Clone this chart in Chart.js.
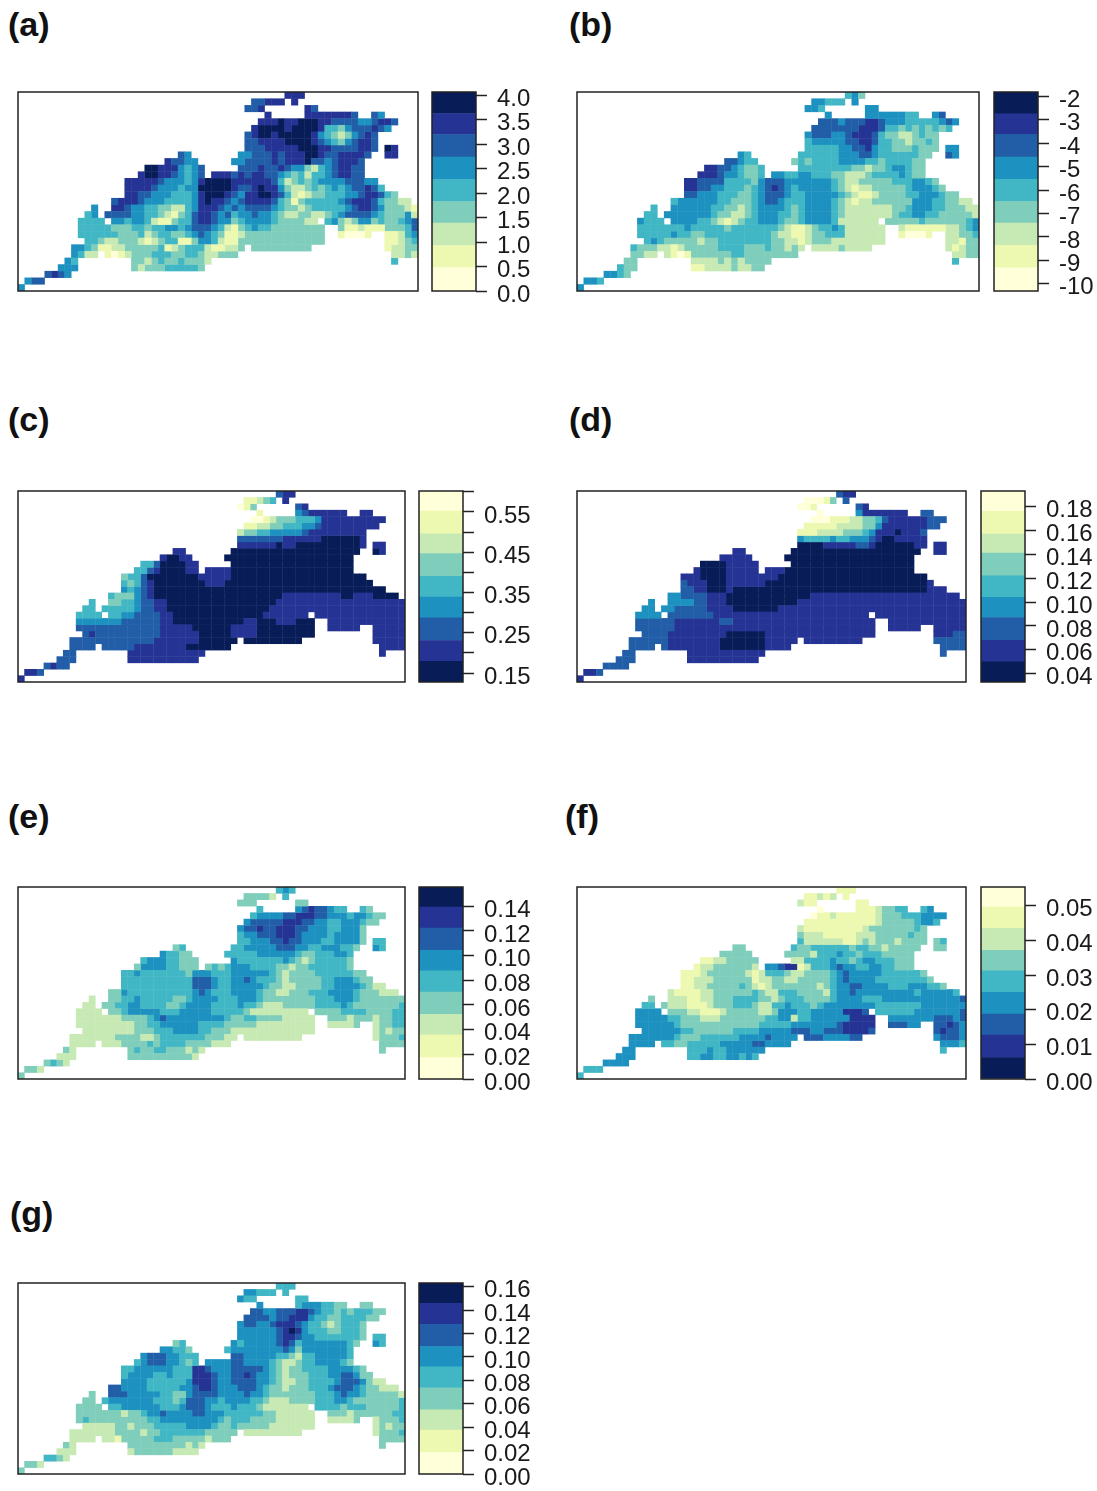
<!DOCTYPE html>
<html lang="en">
<head>
<meta charset="UTF-8">
<title>Maps (a) - (g)</title>
<style>
    body { margin: 0; background: #fff; }
    canvas { position: absolute; }
    canvas.map { filter: blur(0.6px); }
    .tag { position: absolute; font: bold 34px "Liberation Sans", Arial, sans-serif; color: #111; line-height: 36px; }
</style>
</head>
<body>
<script src="https://cdn.jsdelivr.net/npm/chart.js"></script>
<script>
// YlGnBu bands, lightest to darkest
const palette = ['#ffffd9', '#edf8b1', '#c7e9b4', '#7fcdbb', '#41b6c4', '#1d91c0', '#225ea8', '#253494', '#081d58'];

// land cells in each row of the 60 x 30 grid, as [first column, last column]
const landRuns = [
    [[40,42]], [[35,39],[41,41]], [[34,36],[43,44]], [[37,37],[43,50],[53,54]], [[36,56]],
    [[35,55]], [[34,53]], [[34,53]], [[34,53],[55,56]], [[24,25],[33,52],[55,56]],
    [[22,26],[32,51]], [[19,27],[33,51]], [[18,27],[29,51]], [[16,53]], [[16,54]],
    [[16,56]], [[14,58]], [[11,11],[14,59]], [[10,11],[13,59]], [[9,12],[14,44],[46,59]],
    [[9,45],[48,59]], [[9,45],[48,52],[55,59]], [[10,45],[55,59]], [[8,33],[35,43],[55,59]], [[8,11],[13,32],[56,59]],
    [[7,8],[17,28],[56,56]], [[6,8],[17,27]], [[4,7]], [[1,3]], [[0,0]]
];

// colour band of each land cell (one string per run)
const levelsA = ['777','66777 7','667 76','7 77777776 65','777877888776666556776',
    '788887888874435666765','67887888887543235676','66777788887654356776','66677777888776666776 87','65 55666767778876677776 77',
    '76655 55666676777866567776','887775456 6667667655324567766','7887765456 77767677665434244567766','77777655545788887777776423434555566655','777765554558888876678775322343454566764',
    '77665554445788876577887642123344455677643','677765554444578776567777643134444456777643322','5 7765544332245777656566665433234444456776533321','45 66665544321346776564556554322332234566665433352','4444 5545542113446776553455554333322 45323553433456',
    '4444433344344554566654213454433333333 311211133346','4444443334234433456543112333333333333 10001 11245','443223332123441135542113333333333333 11234','55431122333334123444211223 333333333 12233','5422 10123334443344322333 2232',
    '54 332343343332 4','555 32333444443','6765','566','5'];
const levelsB = ['453','55444 5','554 55','5 55555544 56','666566677655544444565',
    '666666677764434343434','56665567776433223433','45555566776443323343','44444556675443334333 55','54 44444455566544444433 65',
    '66544 34344445555443444433','776654334 4444444433233455433','7776554334 55445544433222344445433','77666644443566655555554322333334445543','776655444345676545555543212233333455543',
    '66555444334566654455555432112333344555433','455555544333456654445555432122333333555443322','4 5555554433234555543455554322222223345554433322','44 55555554332234555443455554322222223445544333332','5444 5555443212344555433455554222222 33333433333345',
    '4444444544444344444443211234454222222 211111122345','4444454433444444444432211233444222222 10001 22334','454333332334444444433221233322222222 22133','43332212333334444333433232 222232222 21233','3322 21013333334433333333 2233',
    '33 222232323333 4','433 11222232233','5543','554','5'];
const levelsC = ['677','11234 7','013 67','1 56777777 77','001233344457777777777',
    '112233444556777777777','23344555556777777777','66666667777778888887','77777787788888888887 77','77 88888888888888888888 87',
    '78877 88888888888888888888','446888877 8888888888888888888','4467888877 77778888888888888888888','34468888888877777888888888888888888888','434678888888877788888888888888888888888',
    '54567888888888888888888888888888888888888','433356788888888888888888888777777777887778888','4 3344566778888888888888888877777777777777777777','44 44444566778888888888888888777777777777777777777','4444 4455666677888888888888887777 77777777777777',
    '5555555666666778888888888877888777888 777777777777','6666666666666777778888887777888888888 77777 77777','676666666666777777888887777888888888 77777','66666666666667777777888888 888888888 77777','6666 66666777777778888888877 7777',
    '66 777777777777 7','666 77777777777','6766','776','7'];
const levelsD = ['677','00013 6','001 67','0 57777777 66','000111223346777777666',
    '111112222335777777766','11122223334577787776','54444544555678877777','88887777766788888877 77','77 88888888888888888888 77',
    '77777 88888888888888888888','888877777 8888888888888888888','7888877777 77788888888888888888888','77788887777777788888888888888888888888','677788877777788888888888888888888888887',
    '66778887888888888888888888888888888888777','55666677788888888888887777777777777777777777777','5 5555667778888888888877777777777777777777777777','55 55666667777888888877777777777777777777777777777','5555 6666666777777777777777777777 77777777777777',
    '6666667777777667777777777777777777777 777777777777','6666667777777777777777777777777777777 77777 77777','666677777777788888877777777777777777 77766','66666677777777888888877777 777777777 66666','6666 67777777788888887777 6666',
    '66 777777777777 6','666 77777777777','6666','776','7'];
const levelsE = ['454','33332 4','333 33','4 56766544 43','455556677766555455433',
    '566666777665544555433','56676677766555445553','45566677765555455553','44555667665554455553 44','34 44555556665544555443 54',
    '54433 44444555555433444554','455544333 5444444454323444443','3555544333 34345554444332334444443','44544444443555444555555432333344444433','444444444446665445565444323333344555433',
    '44444444444666544555554332233334455554322','335444444444456544455554332233344455554333222','2 3344544444334555544455543333333344455543333333','22 33445544443345555444454432223333344445433333334','2222 3345555544455555444443222222 33334444333344',
    '2222222333345655555555543344333322222 333233323344','2222222223344555555444433333222222222 22223 23344','222222223334445555443332222222222222 23233','22222223333223444444433322 222222222 23334','2222 22233334344443333222 3333',
    '32 343344333232 3','222 33333333332','3432','332','3'];
const levelsF = ['111','11212 1','211 11','0 11123344 45','011211111123334445555',
    '111111111112333334554','21111111112333333343','32221111122233333433','42222221123233323333 34','33 43344444434433233333 33',
    '33333 33332444544344433333','112233333 2244445443455444333','1223333332 55677124445655445544333','11123333332124443223333456555554444443','112223333331223322333334565555444444443',
    '11223333343212333333323455665555444555443','211112233333343224443333245565555555554555554','3 2221122333444433234443333455554445555555555556','44 32221112333444322445444345555555544444445555555','5555 3332211123333322355544555557776 44444455555556',
    '5555544333222333333344552445555557777 555555566656','5555554333333333333444445555555677777 66655 66765','555555443333334444555556665566677776 67665','55555554333444444555565555 666555566 56665','5555 44334444455555665555 5554',
    '55 444544555555 4','555 44554455454','5555','444','4'];
const levelsG = ['444','55444 4','544 44','5 45554433 33','665566677654434344433',
    '666656677754433444433','56655677765443234443','55555567875444334443','55555567765544444443 44','34 54555556764555555543 54',
    '55443 45555555565355555554','566655444 6655555443244555554','4566655434 55556655554322344555543','44555555444776555666665432334444555543','455554454447776556676554323334445566533',
    '55554444445777655666655432233444456665322','665555444445567765556665433233344456665433222','3 6665555544335666655556554333333344456554333332','33 45555555444346665545555443222333344455433333334','3333 4455555544456665444544432222222 44443444333334',
    '3333333233455655556655544444433222222 333233333344','3433333333344555555555434443333222222 22223 23334','222223323334444455554334333332222222 23233','22222223333233444444433333 222222222 23334','2222 22133333444333332333 3333',
    '32 333333333232 3','222 23333332222','4432','332','3'];

// colour bar band limits, bottom to top, and the numbered ticks
const breaksA = [0, 0.48, 0.93, 1.39, 1.83, 2.28, 2.74, 3.2, 3.63, 4.07];
const breaksB = [-10.31, -9.32, -8.36, -7.41, -6.48, -5.54, -4.59, -3.62, -2.74, -1.81];
const breaksC = [0.128, 0.179, 0.231, 0.287, 0.339, 0.39, 0.447, 0.496, 0.552, 0.602];
const breaksD = [0.033, 0.05, 0.068, 0.087, 0.104, 0.122, 0.141, 0.157, 0.176, 0.193];
const breaksE = [0, 0.0173, 0.0357, 0.0525, 0.0704, 0.0877, 0.1042, 0.1223, 0.1394, 0.1556];
const breaksF = [0, 0.0062, 0.0127, 0.0187, 0.025, 0.0312, 0.0371, 0.0435, 0.0496, 0.0554];
const breaksG = [0, 0.0182, 0.0374, 0.0547, 0.0735, 0.0916, 0.1089, 0.1279, 0.1458, 0.1631];

const ticksA = [0, 0.5, 1, 1.5, 2, 2.5, 3, 3.5, 4];
const ticksB = [-10, -9, -8, -7, -6, -5, -4, -3, -2];
const ticksC = [0.15, 0.2, 0.25, 0.3, 0.35, 0.4, 0.45, 0.5, 0.55, 0.6];
const ticksD = [0.04, 0.06, 0.08, 0.1, 0.12, 0.14, 0.16, 0.18];
const ticksE = [0, 0.02, 0.04, 0.06, 0.08, 0.1, 0.12, 0.14];
const ticksF = [0, 0.01, 0.02, 0.03, 0.04, 0.05];
const ticksG = [0, 0.02, 0.04, 0.06, 0.08, 0.1, 0.12, 0.14, 0.16];

const labelsC = ['0.15', '', '0.25', '', '0.35', '', '0.45', '', '0.55', ''];

// box round the plot area, the R look
const frame = {
    id: 'frame',
    afterDatasetsDraw(chart) {
        const a = chart.chartArea, c = chart.ctx;
        c.save();
        c.strokeStyle = '#222';
        c.lineWidth = 1.5;
        c.strokeRect(a.left, a.top, a.right - a.left, a.bottom - a.top);
        c.restore();
    }
};

function addCanvas(x, y, w, h, cls) {
    const cv = document.createElement('canvas');
    cv.width = w;
    cv.height = h;
    cv.style.left = x + 'px';
    cv.style.top = y + 'px';
    if (cls) cv.className = cls;
    document.body.appendChild(cv);
    return cv.getContext('2d');
}

function drawMap(box, levels) {
    // one scatter dataset per colour band
    const cells = palette.map(() => []);
    landRuns.forEach((runs, row) => {
        const parts = levels[row].split(' ');
        runs.forEach((run, i) => {
            const part = parts[i];
            for (let col = run[0]; col <= run[1]; col++) {
                const digit = part[col - run[0]] || part[part.length - 1];
                cells[+digit].push({ x: col + 0.5, y: row + 0.5 });
            }
        });
    });
    const side = Math.max(box.w / 60, box.h / 30) + 0.4;
    new Chart(addCanvas(box.x - 1, box.y - 1, box.w + 2, box.h + 2, 'map'), {
        type: 'scatter',
        data: {
            datasets: cells.map((pts, i) => ({
                data: pts,
                backgroundColor: palette[i],
                pointStyle: 'rect',
                pointRadius: side / Math.SQRT2,
                borderWidth: 0
            }))
        },
        options: {
            responsive: false,
            animation: false,
            layout: { autoPadding: false, padding: 1 },
            plugins: { legend: { display: false }, tooltip: { enabled: false } },
            scales: {
                x: { type: 'linear', display: false, min: 0, max: 60 },
                y: { type: 'linear', display: false, min: 0, max: 30, reverse: true }
            }
        },
        plugins: [frame]
    });
}

function drawBar(box, breaks, ticks, reversed, labels, decimals) {
    const pad = 26; // tick labels need about this much past the bar ends
    const bands = breaks.slice(1).map((hi, i) => ({
        data: [[breaks[i], hi]],
        backgroundColor: palette[reversed ? 8 - i : i],
        borderWidth: 0,
        barPercentage: 1,
        categoryPercentage: 1,
        grouped: false
    }));
    new Chart(addCanvas(box.x - 1, box.y - pad, box.w + 91, box.h + pad * 2), {
        type: 'bar',
        data: { labels: [''], datasets: bands },
        options: {
            responsive: false,
            animation: false,
            layout: { autoPadding: false, padding: { left: 1, top: pad, bottom: pad } },
            plugins: { legend: { display: false }, tooltip: { enabled: false } },
            scales: {
                x: { display: false },
                y: {
                    position: 'right',
                    min: breaks[0],
                    max: breaks[9],
                    afterBuildTicks(s) { s.ticks = ticks.map(v => ({ value: v })); },
                    afterFit(s) { s.width = 90; },
                    grid: { drawOnChartArea: false, tickLength: 11, tickColor: '#222', tickWidth: 1.5 },
                    border: { display: false },
                    ticks: {
                        autoSkip: false,
                        padding: 10,
                        labelOffset: 4,
                        color: '#1a1a1a',
                        font: { family: '"Liberation Sans", Arial, sans-serif', size: 24 },
                        callback(v, i) { return labels ? labels[i] : v.toFixed(decimals); }
                    }
                }
            }
        },
        plugins: [frame]
    });
}

function addTag(text, x, y) {
    const d = document.createElement('div');
    d.className = 'tag';
    d.textContent = text;
    d.style.left = x + 'px';
    d.style.top = y + 'px';
    document.body.appendChild(d);
}

drawMap({ x: 18, y: 92, w: 400, h: 199 }, levelsA);
drawBar({ x: 432, y: 92, w: 44, h: 199 }, breaksA, ticksA, false, null, 1);
addTag('(a)', 8, 6);

drawMap({ x: 577, y: 92, w: 402, h: 199 }, levelsB);
drawBar({ x: 994, y: 92, w: 44, h: 199 }, breaksB, ticksB, false, null, 0);
addTag('(b)', 569, 6);

drawMap({ x: 18, y: 491, w: 387, h: 191 }, levelsC);
drawBar({ x: 419, y: 491, w: 44, h: 191 }, breaksC, ticksC, true, labelsC, 2);
addTag('(c)', 8, 401);

drawMap({ x: 577, y: 491, w: 389, h: 191 }, levelsD);
drawBar({ x: 981, y: 491, w: 44, h: 191 }, breaksD, ticksD, true, null, 2);
addTag('(d)', 569, 401);

drawMap({ x: 18, y: 887, w: 387, h: 192 }, levelsE);
drawBar({ x: 419, y: 887, w: 44, h: 192 }, breaksE, ticksE, false, null, 2);
addTag('(e)', 8, 798);

drawMap({ x: 577, y: 887, w: 389, h: 192 }, levelsF);
drawBar({ x: 981, y: 887, w: 44, h: 192 }, breaksF, ticksF, true, null, 2);
addTag('(f)', 565, 798);

drawMap({ x: 18, y: 1283, w: 387, h: 191 }, levelsG);
drawBar({ x: 419, y: 1283, w: 44, h: 191 }, breaksG, ticksG, false, null, 2);
addTag('(g)', 10, 1195);
</script>
</body>
</html>
